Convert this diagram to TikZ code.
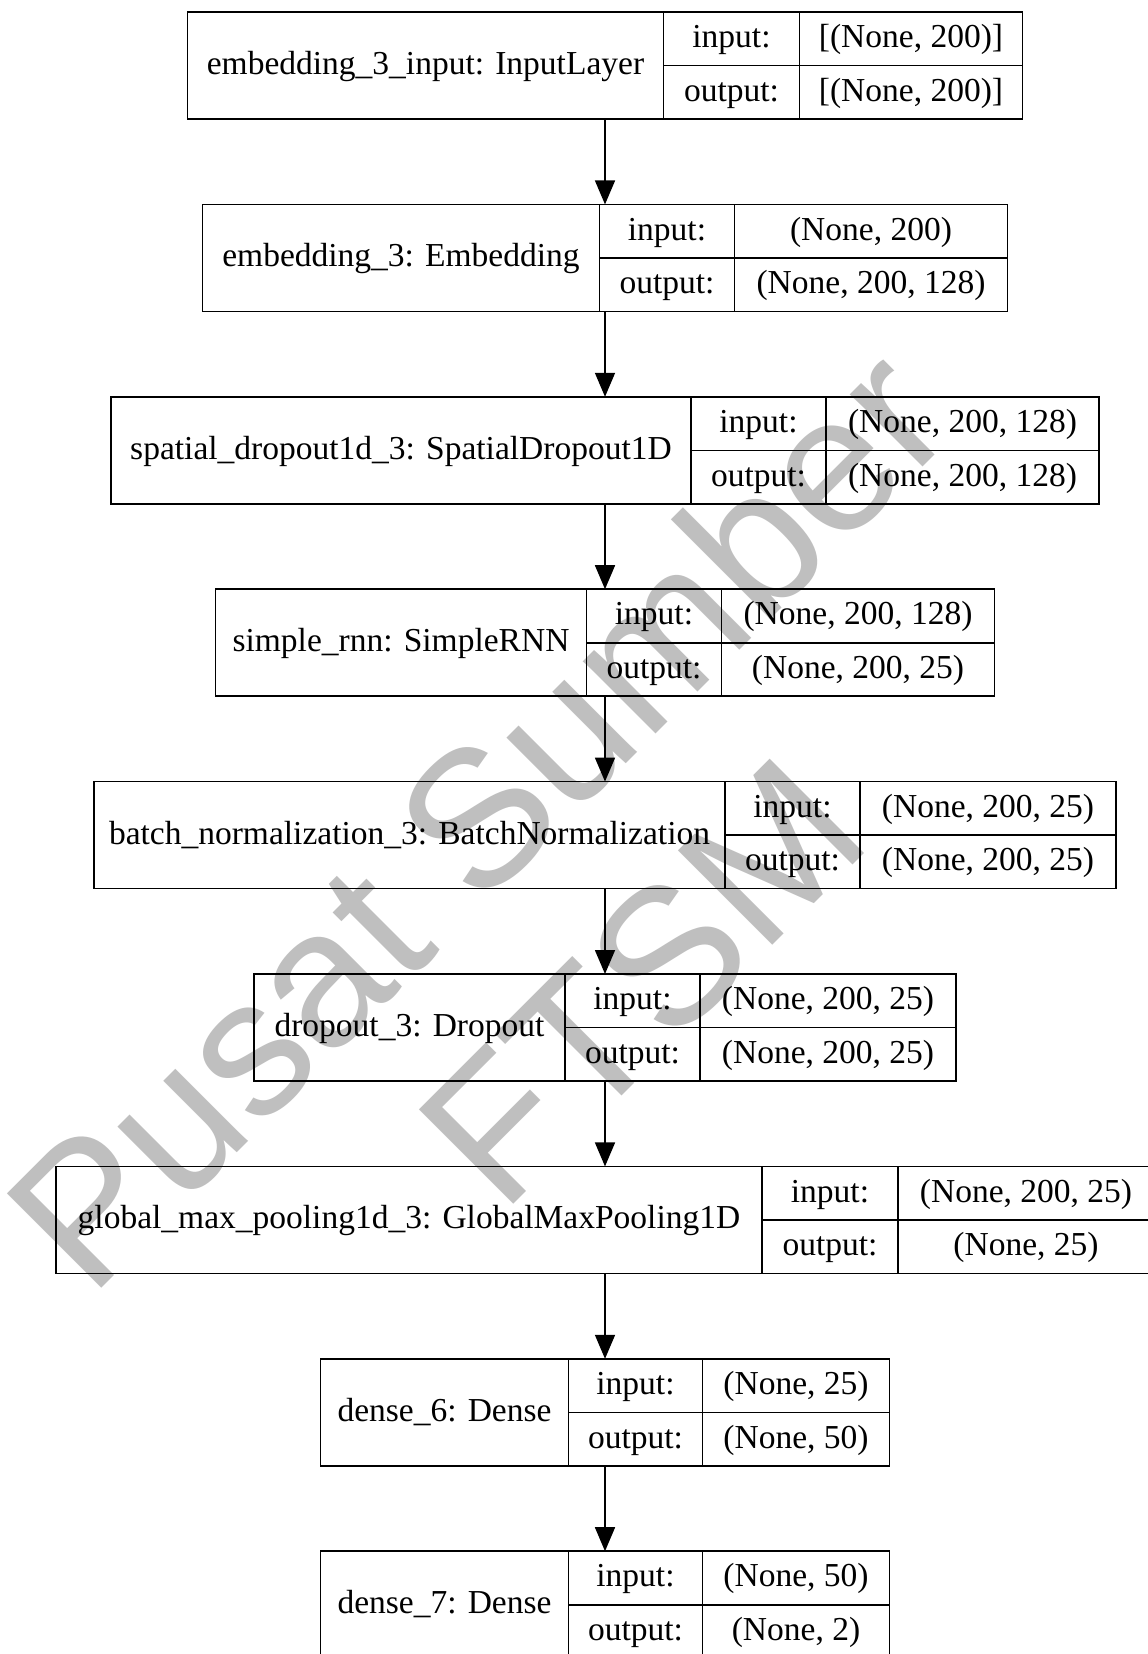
\documentclass[tikz,border=0pt]{standalone}
\usepackage{fontspec}
\setmainfont{Liberation Serif}
\newfontfamily\wmfont{Liberation Sans}
\usetikzlibrary{positioning,arrows.meta}

\begin{document}
\begin{tikzpicture}[
    x=1pt, y=-1pt,
    font=\fontsize{33.5pt}{40pt}\selectfont,
    layer/.style={rectangle, draw, line width=1.6pt, minimum height=107pt, inner sep=0pt, outer sep=0pt},
    namecell/.style={rectangle, draw, line width=1.6pt, minimum height=107pt, inner sep=0pt, outer sep=0pt, anchor=west, text height=25pt, text depth=7pt},
    cell/.style={rectangle, draw, line width=1.6pt, minimum height=53.5pt, inner sep=0pt, outer sep=0pt, text height=25pt, text depth=7pt},
    arrow/.style={-{Triangle[length=24pt,width=20pt]}, line width=1.6pt},
    watermark/.style={text=black!25, align=center, font=\wmfont\fontsize{194pt}{232pt}\selectfont}
]
\path[use as bounding box, fill=white] (0,0) rectangle (1148,1654);

% watermark
\node[watermark, rotate=45] (wm) at (558,898) {Pusat Sumber\\FTSM};

% embedding_3_input
\node[layer, minimum width=835pt] (inp) at (605,65.5) {};
\node[namecell, minimum width=476pt] (inp-name) at (inp.west) {embedding\_3\_input: InputLayer};
\node[cell, minimum width=136pt, anchor=north west] (inp-ki) at (inp-name.north east) {input:};
\node[cell, minimum width=136pt, below=0pt of inp-ki] (inp-ko) {output:};
\node[cell, minimum width=223pt, right=0pt of inp-ki] (inp-vi) {[(None, 200)]};
\node[cell, minimum width=223pt, right=0pt of inp-ko] (inp-vo) {[(None, 200)]};

% embedding_3
\node[layer, minimum width=805pt] (emb) at (605,257.9) {};
\node[namecell, minimum width=397pt] (emb-name) at (emb.west) {embedding\_3: Embedding};
\node[cell, minimum width=135pt, anchor=north west] (emb-ki) at (emb-name.north east) {input:};
\node[cell, minimum width=135pt, below=0pt of emb-ki] (emb-ko) {output:};
\node[cell, minimum width=273pt, right=0pt of emb-ki] (emb-vi) {(None, 200)};
\node[cell, minimum width=273pt, right=0pt of emb-ko] (emb-vo) {(None, 200, 128)};

% spatial_dropout1d_3
\node[layer, minimum width=988pt] (sdrop) at (605,450.3) {};
\node[namecell, minimum width=580pt] (sdrop-name) at (sdrop.west) {spatial\_dropout1d\_3: SpatialDropout1D};
\node[cell, minimum width=135pt, anchor=north west] (sdrop-ki) at (sdrop-name.north east) {input:};
\node[cell, minimum width=135pt, below=0pt of sdrop-ki] (sdrop-ko) {output:};
\node[cell, minimum width=273pt, right=0pt of sdrop-ki] (sdrop-vi) {(None, 200, 128)};
\node[cell, minimum width=273pt, right=0pt of sdrop-ko] (sdrop-vo) {(None, 200, 128)};

% simple_rnn
\node[layer, minimum width=779pt] (rnn) at (605,642.7) {};
\node[namecell, minimum width=371pt] (rnn-name) at (rnn.west) {simple\_rnn: SimpleRNN};
\node[cell, minimum width=135pt, anchor=north west] (rnn-ki) at (rnn-name.north east) {input:};
\node[cell, minimum width=135pt, below=0pt of rnn-ki] (rnn-ko) {output:};
\node[cell, minimum width=273pt, right=0pt of rnn-ki] (rnn-vi) {(None, 200, 128)};
\node[cell, minimum width=273pt, right=0pt of rnn-ko] (rnn-vo) {(None, 200, 25)};

% batch_normalization_3
\node[layer, minimum width=1022pt] (bn) at (605,835.1) {};
\node[namecell, minimum width=631pt] (bn-name) at (bn.west) {batch\_normalization\_3: BatchNormalization};
\node[cell, minimum width=135pt, anchor=north west] (bn-ki) at (bn-name.north east) {input:};
\node[cell, minimum width=135pt, below=0pt of bn-ki] (bn-ko) {output:};
\node[cell, minimum width=256pt, right=0pt of bn-ki] (bn-vi) {(None, 200, 25)};
\node[cell, minimum width=256pt, right=0pt of bn-ko] (bn-vo) {(None, 200, 25)};

% dropout_3
\node[layer, minimum width=702pt] (drop) at (605,1027.5) {};
\node[namecell, minimum width=311pt] (drop-name) at (drop.west) {dropout\_3: Dropout};
\node[cell, minimum width=135pt, anchor=north west] (drop-ki) at (drop-name.north east) {input:};
\node[cell, minimum width=135pt, below=0pt of drop-ki] (drop-ko) {output:};
\node[cell, minimum width=256pt, right=0pt of drop-ki] (drop-vi) {(None, 200, 25)};
\node[cell, minimum width=256pt, right=0pt of drop-ko] (drop-vo) {(None, 200, 25)};

% global_max_pooling1d_3
\node[layer, minimum width=1098pt] (gmp) at (605,1219.9) {};
\node[namecell, minimum width=706pt] (gmp-name) at (gmp.west) {global\_max\_pooling1d\_3: GlobalMaxPooling1D};
\node[cell, minimum width=136pt, anchor=north west] (gmp-ki) at (gmp-name.north east) {input:};
\node[cell, minimum width=136pt, below=0pt of gmp-ki] (gmp-ko) {output:};
\node[cell, minimum width=256pt, right=0pt of gmp-ki] (gmp-vi) {(None, 200, 25)};
\node[cell, minimum width=256pt, right=0pt of gmp-ko] (gmp-vo) {(None, 25)};

% dense_6
\node[layer, minimum width=569pt] (dense6) at (605,1412.3) {};
\node[namecell, minimum width=248pt] (dense6-name) at (dense6.west) {dense\_6: Dense};
\node[cell, minimum width=134pt, anchor=north west] (dense6-ki) at (dense6-name.north east) {input:};
\node[cell, minimum width=134pt, below=0pt of dense6-ki] (dense6-ko) {output:};
\node[cell, minimum width=187pt, right=0pt of dense6-ki] (dense6-vi) {(None, 25)};
\node[cell, minimum width=187pt, right=0pt of dense6-ko] (dense6-vo) {(None, 50)};

% dense_7
\node[layer, minimum width=569pt] (dense7) at (605,1604.7) {};
\node[namecell, minimum width=248pt] (dense7-name) at (dense7.west) {dense\_7: Dense};
\node[cell, minimum width=134pt, anchor=north west] (dense7-ki) at (dense7-name.north east) {input:};
\node[cell, minimum width=134pt, below=0pt of dense7-ki] (dense7-ko) {output:};
\node[cell, minimum width=187pt, right=0pt of dense7-ki] (dense7-vi) {(None, 50)};
\node[cell, minimum width=187pt, right=0pt of dense7-ko] (dense7-vo) {(None, 2)};

% connectors
\draw[arrow] (inp) -- (emb);
\draw[arrow] (emb) -- (sdrop);
\draw[arrow] (sdrop) -- (rnn);
\draw[arrow] (rnn) -- (bn);
\draw[arrow] (bn) -- (drop);
\draw[arrow] (drop) -- (gmp);
\draw[arrow] (gmp) -- (dense6);
\draw[arrow] (dense6) -- (dense7);
\end{tikzpicture}
\end{document}
